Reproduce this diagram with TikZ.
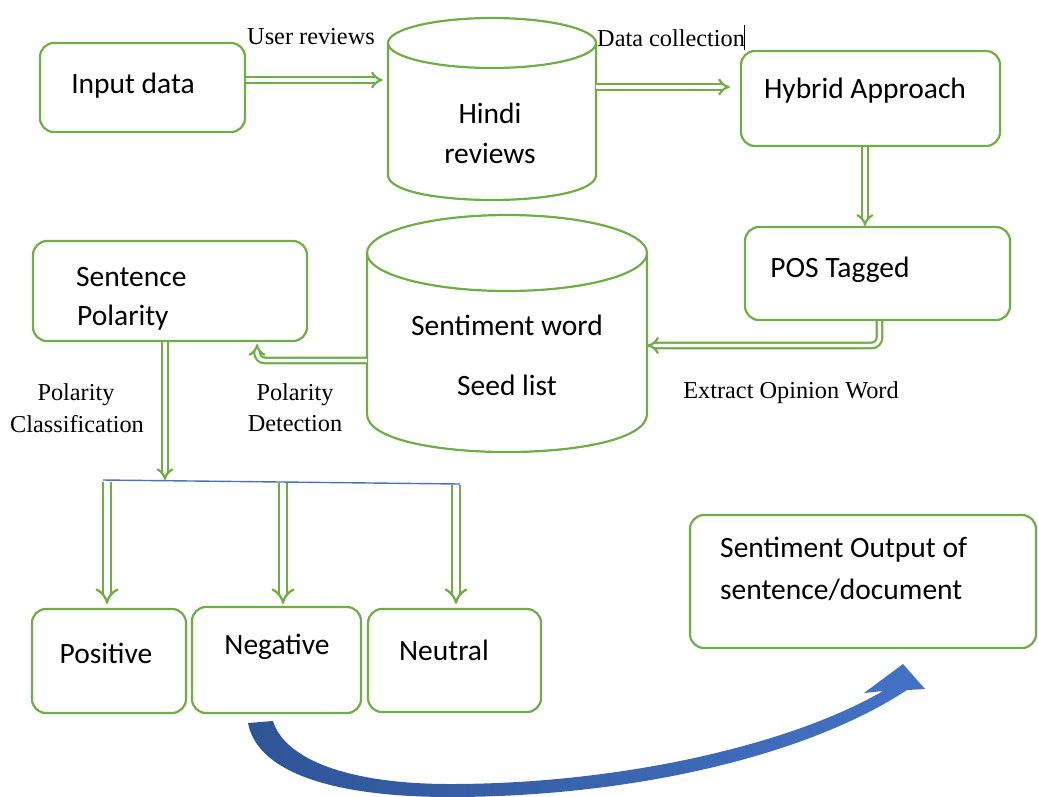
\documentclass[tikz,border=0pt]{standalone}
\usepackage{fontspec}
\setmainfont{Carlito}
\newfontfamily\tnr{Liberation Serif}
\usetikzlibrary{arrows.meta,fit,calc}
\definecolor{grn}{HTML}{70AD47}
\definecolor{bluea}{HTML}{2F5597}
\definecolor{blueb}{HTML}{4472C4}
\begin{document}
\begin{tikzpicture}[x=1pt,y=-1pt,
  box/.style={draw=grn, line width=2.2pt, rounded corners=14pt, inner sep=0pt},
  frame/.style={inner sep=0pt},
  cyl/.style={draw=grn, line width=2.2pt},
  txt/.style={font=\fontsize{29.5}{34}\selectfont, inner sep=0pt},
  lbl/.style={font=\tnr\fontsize{24.3}{28}\selectfont, inner sep=0pt},
  dbl/.style={draw=grn, double=white, line width=2.2pt, double distance=3.4pt, -{Implies}},
  dblw/.style={draw=grn, double=white, line width=2.3pt, double distance=5.5pt, -{Implies}},
  bar/.style={draw=blueb, line width=1.4pt}]
\useasboundingbox (0,0) rectangle (1038,796);

% boxes
\node[box, fit={(40,43) (245,132)}] (inp) {};
\node[box, fit={(741,51) (1000,146)}] (hyb) {};
\node[box, fit={(745,227) (1010,320)}] (pos) {};
\node[box, fit={(33,241) (307,341)}] (sent) {};
\node[box, fit={(32,609) (186,713)}] (posv) {};
\node[box, fit={(192,607) (361,713)}] (neg) {};
\node[box, fit={(368,609) (541,712)}] (neu) {};
\node[box, fit={(690,515) (1036,648)}] (outp) {};

% cylinders
\node[frame, fit={(388,18) (596,200)}] (hindi) {};
\draw[cyl] (492,43) ellipse (104 and 25);
\draw[cyl] (388,43) -- (388,175) .. controls (388,208.3) and (596,208.3) .. (596,175) -- (596,43);
\node[frame, fit={(367,215) (647,452)}] (sw) {};
\draw[cyl] (507,253) ellipse (140 and 38);
\draw[cyl] (367,253) -- (367,414) .. controls (367,464.7) and (647,464.7) .. (647,414) -- (647,253);

% texts
\node[txt] (tinp) at (133,86) {Input data};
\node[txt] (thin1) at (490,113) {Hindi};
\node[txt] (thin2) at (490,153) {reviews};
\node[txt] (thyb) at (865,91) {Hybrid Approach};
\node[txt] (tpos) at (840,270) {POS Tagged};
\node[txt] (tsw1) at (507,325) {Sentiment word};
\node[txt] (tsw2) at (507,385) {Seed list};
\node[txt, anchor=west] (tsen1) at (76,277) {Sentence};
\node[txt, anchor=west] (tsen2) at (77,318) {Polarity};
\node[txt] (tposv) at (106,653) {Positive};
\node[txt] (tneg) at (277,647) {Negative};
\node[txt] (tneu) at (444,650) {Neutral};
\node[txt, anchor=west] (tout1) at (720,550) {Sentiment Output of};
\node[txt, anchor=west] (tout2) at (720,590) {sentence/document};

% labels
\node[lbl] (lur) at (311,37) {User reviews};
\node[lbl, anchor=west] (ldc) at (597,38) {Data collection};
\coordinate (cur1) at (744,25);
\coordinate (cur2) at (744,50);
\draw[line width=0.8pt] (cur1) -- (cur2);
\node[lbl] (leo) at (791,393) {Extract Opinion Word};
\node[lbl] (lpd1) at (295,395) {Polarity};
\node[lbl] (lpd2) at (295,424) {Detection};
\node[lbl] (lpc1) at (76,395) {Polarity};
\node[lbl] (lpc2) at (77,424) {Classification};

% connectors
\coordinate (c1) at ([yshift=7.5pt]inp.east);
\draw[dbl, shorten >=5pt] (c1) -- (c1 -| hindi.west);
\coordinate (c2) at ([yshift=11.5pt]hyb.west);
\draw[dbl, shorten >=10pt] (c2 -| hindi.east) -- (c2);
\coordinate (c3) at ([xshift=-5.5pt]hyb.south);
\draw[dbl] (c3) -- (c3 |- pos.north);
\coordinate (c4) at ([yshift=-12pt]sw.east);
\coordinate (c4a) at ([xshift=2pt]pos.south);
\draw[dbl, rounded corners=8pt] (c4a) |- (c4);
\coordinate (c5) at ([yshift=-27pt]sw.west);
\coordinate (c5b) at ([xshift=87pt,yshift=-2pt]sent.south);
\draw[dbl, rounded corners=8pt] (c5) -| (c5b);
\coordinate (c6) at ([xshift=-5pt]sent.south);
\coordinate (bl) at (103,480);
\coordinate (br) at (460,484);
\draw[dbl] (c6) -- (c6 |- bl);
\coordinate (t1) at (107,482);
\coordinate (t2) at (283,483);
\coordinate (t3) at (456,485);
\draw[dblw, shorten >=4pt] (t1) -- (t1 |- posv.north);
\draw[dblw, shorten >=2pt] (t2) -- (t2 |- neg.north);
\draw[dblw, shorten >=4pt] (t3) -- (t3 |- neu.north);
\draw[bar] (bl) -- (br);

% big curved arrow
\shade[left color=bluea, right color=blueb]
  (248,723) .. controls (258,775) and (340,797) .. (450,797)
  .. controls (620,797) and (800,760) .. (907,690)
  -- (925,689) -- (903,664) -- (864,693) -- (883,691)
  .. controls (790,745) and (620,784) .. (450,784)
  .. controls (350,784) and (285,760) .. (273,721) -- cycle;
\end{tikzpicture}
\end{document}
